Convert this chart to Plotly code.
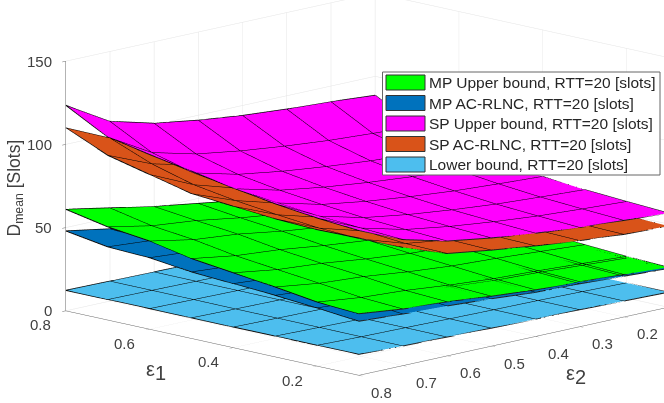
import plotly.graph_objects as go

eps1 = [0.1, 0.2, 0.3, 0.4, 0.5, 0.6, 0.7, 0.8]
eps2 = [0.1, 0.2, 0.3, 0.4, 0.5, 0.6, 0.7, 0.8]

# tables written as rows of eps1, columns of eps2
mp_upper = [
    [24, 25.5, 27, 28, 30, 32.5, 34, 37],
    [25, 26.6, 28.1, 29.2, 31.2, 33.8, 35.4, 38.5],
    [26.5, 28.3, 30, 31.3, 33.6, 36.6, 38.4, 42],
    [28, 30, 31.9, 33.3, 35.8, 39, 41.1, 45],
    [30, 32.1, 34.1, 35.6, 38.3, 41.7, 43.9, 48],
    [31.5, 34, 36.5, 38.2, 41.4, 45.5, 48, 53],
    [33.5, 36.1, 38.7, 40.5, 43.9, 48.1, 50.8, 56],
    [35, 37, 40, 43, 47, 51, 56, 61],
]
mp_acrlnc = [
    [23.2, 24.5, 25.8, 26.5, 28.5, 30, 31, 32.5],
    [24, 25.5, 27, 28, 30, 32, 33.2, 35],
    [25, 26.5, 28, 29.3, 31.5, 34, 35, 37],
    [25.5, 27.2, 28.8, 30.2, 32.5, 35.3, 36.5, 38.5],
    [26, 28, 29.6, 31.2, 33.5, 36.6, 38, 40],
    [26.5, 29, 31, 32.8, 35.5, 39.2, 41, 43],
    [27, 29.5, 31.6, 33.5, 36.4, 40.1, 42, 44],
    [27, 29, 31, 33, 36, 39, 43.4, 48],
]
sp_upper = [
    [56.6, 58, 59.6, 62, 65, 69, 75.7, 87],
    [58, 59.4, 61, 63.4, 66.4, 70.4, 77.1, 89],
    [59.6, 61, 62.6, 65, 68, 72, 78.7, 92],
    [62, 63.4, 65, 67.4, 70.4, 74.4, 81.1, 95.8],
    [65, 66.4, 68, 70.4, 73.4, 77.4, 84.1, 100.6],
    [69, 70.4, 72, 74.4, 77.4, 81.4, 88.1, 105],
    [75.7, 77.1, 78.7, 81.1, 84.1, 88.1, 94.8, 110],
    [88.6, 90.6, 92, 94, 97, 101, 108, 123.5],
]
sp_acrlnc = [
    [48.8, 49.6, 51.7, 54.4, 57.7, 61.5, 71, 82.5],
    [49.6, 50.2, 52.4, 55, 58.4, 62, 70.5, 82],
    [51.7, 52.4, 54.5, 57, 60, 64, 71.5, 83],
    [54.4, 55, 57, 59.6, 62.6, 66.6, 74, 85],
    [57.7, 58.4, 60, 62.6, 65.6, 69.6, 77, 87],
    [61.5, 62, 64, 66.6, 69.6, 73, 81, 93],
    [71, 71, 72, 75, 78, 81.5, 88, 99],
    [82, 83, 84, 86, 89, 92, 98, 110],
]
lower = [
    [9, 9.6, 10.2, 10.4, 10.8, 11.3, 11.8, 12.6],
    [9.1, 9.7, 10.2, 10.5, 10.9, 11.4, 11.8, 12.5],
    [9.2, 9.7, 10.3, 10.6, 11, 11.4, 11.9, 12.5],
    [9.3, 9.8, 10.3, 10.7, 11, 11.5, 11.9, 12.4],
    [9.3, 9.8, 10.4, 10.8, 11.1, 11.5, 11.9, 12.4],
    [9.4, 9.9, 10.4, 10.9, 11.2, 11.6, 12, 12.4],
    [9.5, 9.9, 10.5, 10.9, 11.2, 11.6, 12, 12.3],
    [9.6, 10, 10.5, 11, 11.3, 11.7, 12, 12.3],
]
series_names = ["MP Upper bound, RTT=20 [slots]", "MP AC-RLNC, RTT=20 [slots]",
                "SP Upper bound, RTT=20 [slots]", "SP AC-RLNC, RTT=20 [slots]",
                "Lower bound, RTT=20 [slots]"]
series_values = [mp_upper, mp_acrlnc, sp_upper, sp_acrlnc, lower]
series_colors = ["#00FF00", "#0072BD", "#FF00FF", "#D95319", "#4DBEEE"]
z_ticks = [0, 50, 100, 150]
eps1_ticks = [0.2, 0.4, 0.6, 0.8]
eps2_ticks = [0.2, 0.3, 0.4, 0.5, 0.6, 0.7, 0.8]

TXT = "#404040"
FONT = "Liberation Sans"
fig = go.Figure()
for name, vals, col in zip(series_names, series_values, series_colors):
    line = dict(show=True, start=0.1, end=0.8, size=0.1, color="black", width=1.5, highlight=False)
    fig.add_trace(go.Surface(
        x=eps1, y=eps2, z=[list(r) for r in zip(*vals)], name=name, showscale=False,
        colorscale=[[0, col], [1, col]],
        lighting=dict(ambient=1, diffuse=0, specular=0, roughness=1, fresnel=0),
        contours=dict(x=line, y=line, z=dict(show=False, highlight=False)),
        hoverinfo="skip",
    ))
    # outline of the sheet
    n = len(eps1) - 1
    ox = eps1 + [eps1[n]] * n + eps1[::-1][1:] + [eps1[0]] * n
    oy = [eps2[0]] * n + eps2 + [eps2[n]] * n + eps2[::-1][1:]
    oz = [vals[i][0] for i in range(n)] + [vals[n][j] for j in range(n + 1)] \
        + [vals[i][n] for i in range(n - 1, -1, -1)] + [vals[0][j] for j in range(n - 1, -1, -1)]
    fig.add_trace(go.Scatter3d(x=ox, y=oy, z=oz, mode="lines", line=dict(color="#222222", width=2),
                               showlegend=False, hoverinfo="skip"))

def axis(ticks, rng):
    return dict(range=rng, tickvals=ticks, showticklabels=False, title=dict(text=""),
                showbackground=False, showgrid=True, gridcolor="#e4e4e4", gridwidth=1,
                zeroline=False, showline=True, linecolor="#666666", linewidth=1,
                ticks="outside", ticklen=5, tickcolor="#666666", showspikes=False)

tf = dict(family=FONT, size=15, color=TXT)
scene_ann = []
for t in z_ticks:
    scene_ann.append(dict(x=0.8, y=0.8, z=t, text=str(t), showarrow=False, xanchor="right", xshift=-12, font=tf))
for t in eps1_ticks:
    scene_ann.append(dict(x=t, y=0.8, z=0, text="%.1f" % t, showarrow=False, xshift=-25, yshift=-14, font=tf))
for t in eps2_ticks:
    scene_ann.append(dict(x=0.1, y=t, z=0, text="%.1f" % t, showarrow=False, xshift=23, yshift=-17, font=tf))

R = 1.575
ex, ey, ez = -R, R, 0.319 * R
cx, cy, cz = 0.123, 0.123, -0.088
fig.update_layout(
    width=664, height=403, margin=dict(l=0, r=0, t=0, b=0),
    paper_bgcolor="white", showlegend=False, font=dict(family=FONT, color=TXT),
    scene=dict(
        domain=dict(x=[0, 1], y=[0, 1]),
        xaxis=axis(eps1_ticks, [0.1, 0.8]),
        yaxis=axis(eps2_ticks, [0.1, 0.8]),
        zaxis=axis(z_ticks, [0, 150]),
        annotations=scene_ann,
        aspectmode="manual", aspectratio=dict(x=1.62 * 1.27, y=1.71 * 1.27, z=1.27),
        camera=dict(projection=dict(type="orthographic"), up=dict(x=0, y=0, z=1),
                    center=dict(x=cx, y=cy, z=cz), eye=dict(x=cx + ex, y=cy + ey, z=cz + ez)),
    ),
)

W, H = 664.0, 403.0
def px(x): return x / W
def py(y): return 1 - y / H
fig.add_shape(type="rect", xref="paper", yref="paper", x0=px(382.5), x1=px(660), y0=py(72), y1=py(175),
              line=dict(color="#666666", width=1), fillcolor="white")
rows = [(75, 90), (95.5, 110.5), (116, 131), (136.5, 151.5), (157, 172)]
for (a, b), name, col in zip(rows, series_names, series_colors):
    fig.add_shape(type="rect", xref="paper", yref="paper", x0=px(386), x1=px(425), y0=py(a), y1=py(b),
                  line=dict(color="#333333", width=1), fillcolor=col)
    fig.add_annotation(xref="paper", yref="paper", x=px(427), y=py((a + b) / 2), text=name, showarrow=False,
                       xanchor="left", yanchor="middle", font=dict(family=FONT, size=15.5, color="#262626"))
fig.add_annotation(xref="paper", yref="paper", x=px(2), y=py(188), text="D<sub>mean</sub> [Slots]", textangle=-90,
                   showarrow=False, font=dict(family=FONT, size=17.5, color=TXT))
SUB = '<sub><span style="font-size:20px">%s</span></sub>'
fig.add_annotation(xref="paper", yref="paper", x=px(144), y=py(386), text="ε" + SUB % "1",
                   showarrow=False, font=dict(family=FONT, size=20, color=TXT))
fig.add_annotation(xref="paper", yref="paper", x=px(588), y=py(390), text="ε" + SUB % "2",
                   showarrow=False, font=dict(family=FONT, size=20, color=TXT))
fig.write_html("out.html", post_script="document.body.style.margin='0';", config=dict(displayModeBar=False))
